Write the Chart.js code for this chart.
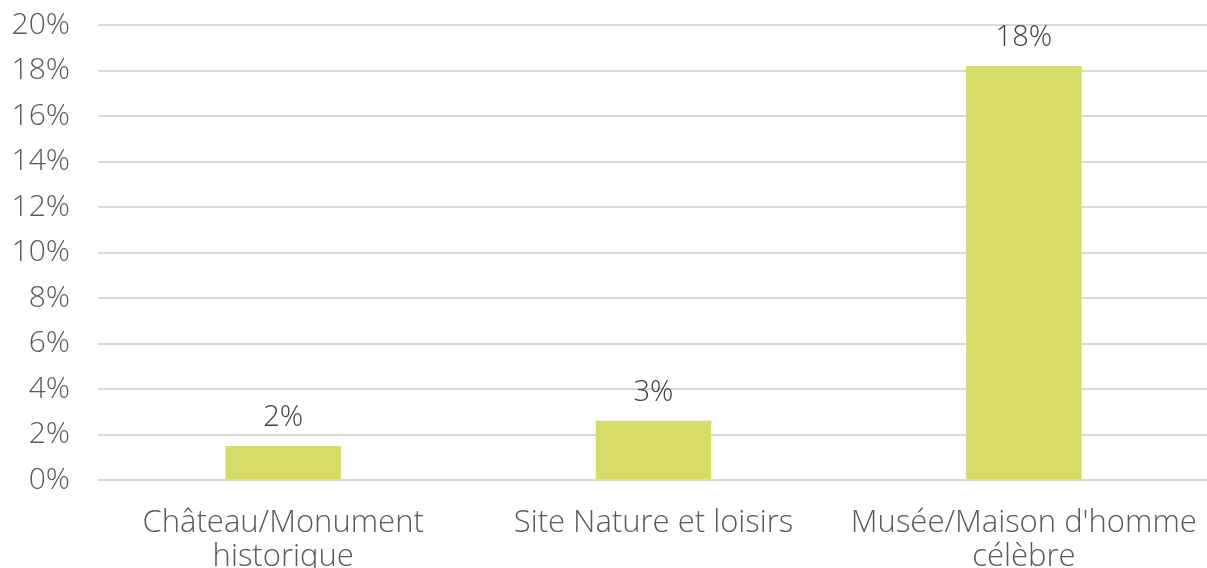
<!DOCTYPE html>
<html>
<head>
<meta charset="utf-8">
<script src="https://cdn.jsdelivr.net/npm/chart.js@4"></script>
<style>
  html, body { margin: 0; padding: 0; background: #fff; overflow: hidden; }
  #wrap { width: 1209px; height: 568px; position: relative; }
</style>
</head>
<body>
<div id="wrap"><canvas id="chart"></canvas></div>
<script>
const categories = [['Château/Monument', 'historique'], 'Site Nature et loisirs', ["Musée/Maison d'homme", 'célèbre']];
const values = [1.5, 2.6, 18.2];
const valueLabels = ['2%', '3%', '18%'];

const FONT = "'Open Sans'";

// draw the value above each bar
const barLabels = {
    id: 'barLabels',
    afterDatasetsDraw(chart) {
        const ctx = chart.ctx;
        const meta = chart.getDatasetMeta(0);
        ctx.save();
        ctx.font = '300 29px ' + FONT;
        ctx.fillStyle = '#404040';
        ctx.textAlign = 'center';
        ctx.textBaseline = 'middle';
        meta.data.forEach((bar, i) => {
            ctx.fillText(valueLabels[i], bar.x, bar.y - 28);
        });
        ctx.restore();
    }
};

new Chart(document.getElementById('chart'), {
    type: 'bar',
    data: {
        labels: categories,
        datasets: [{
            data: values,
            backgroundColor: '#D7DB67',
            barPercentage: 0.312,
            categoryPercentage: 1
        }]
    },
    options: {
        responsive: true,
        maintainAspectRatio: false,
        animation: false,
        layout: { padding: { left: 0, right: 0, top: 25, bottom: 0 } },
        plugins: { legend: { display: false }, tooltip: { enabled: false } },
        scales: {
            x: {
                grid: { display: false },
                border: { display: false },
                afterFit: s => { s.height = 88; s.paddingLeft = 0; s.paddingRight = 0; },
                ticks: {
                    color: '#595959',
                    font: { family: FONT, size: 31, weight: 300, lineHeight: 1.1 },
                    padding: 18,
                    maxRotation: 0,
                    autoSkip: false
                }
            },
            y: {
                min: 0,
                max: 20,
                border: { display: false },
                grid: { color: '#D9D9D9', lineWidth: 2, drawTicks: false },
                afterFit: s => { s.width = 98; s.paddingTop = 0; s.paddingBottom = 0; },
                ticks: {
                    stepSize: 2,
                    color: '#595959',
                    font: { family: FONT, size: 30, weight: 300 },
                    padding: 28,
                    callback: v => v + '%'
                }
            }
        }
    },
    plugins: [barLabels]
});
</script>
</body>
</html>
